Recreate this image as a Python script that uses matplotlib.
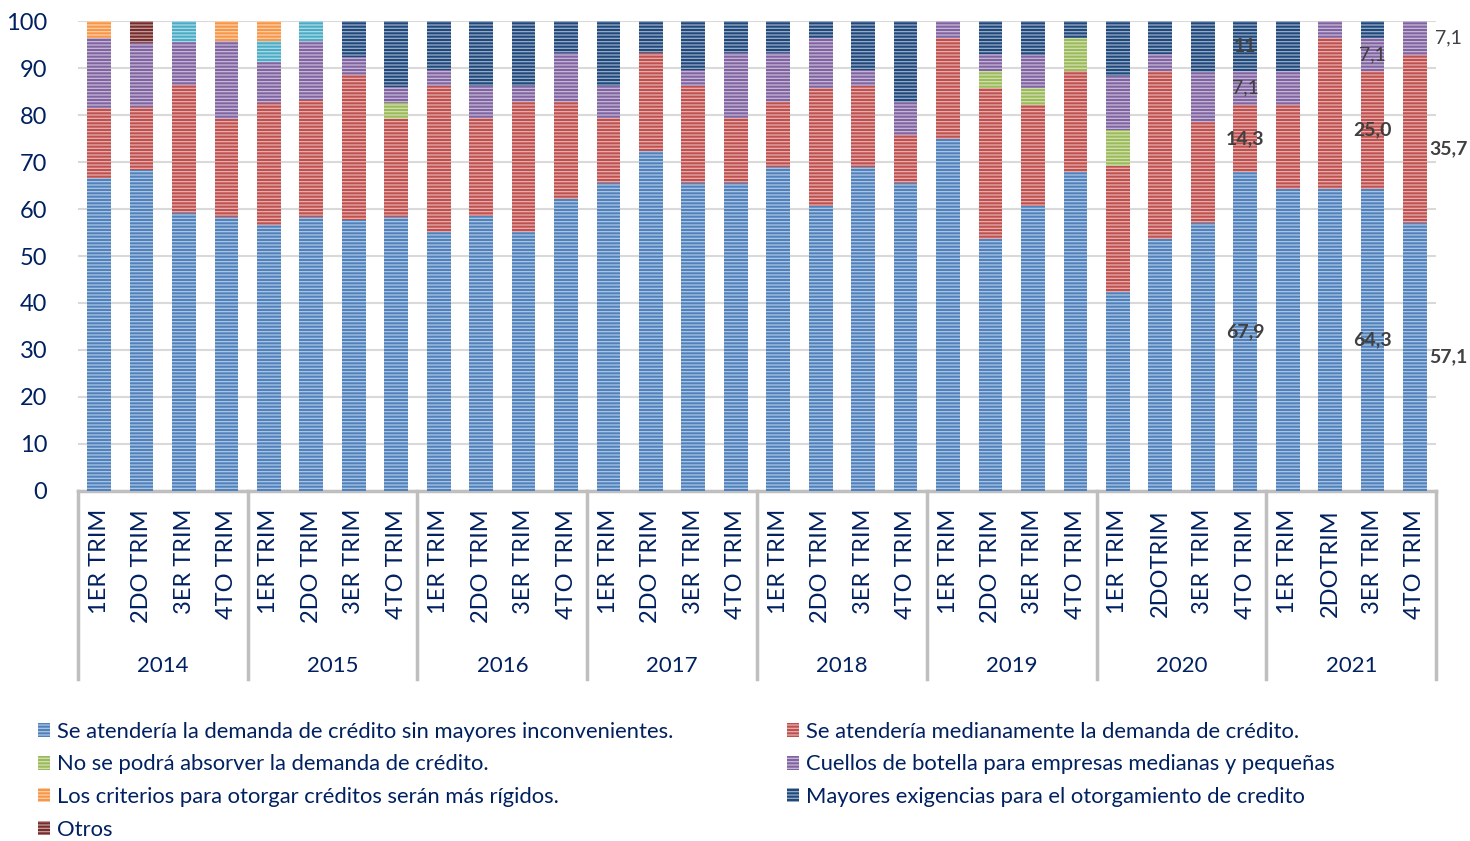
import matplotlib.pyplot as plt
import matplotlib.transforms as mtransforms
import numpy as np

plt.rcParams['font.family'] = ['Lato', 'DejaVu Sans']
plt.rcParams['hatch.linewidth'] = 0.9

years = ["2014", "2015", "2016", "2017", "2018", "2019", "2020", "2021"]
quarters = ["1ER TRIM", "2DO TRIM", "3ER TRIM", "4TO TRIM"] * 6 + \
           ["1ER TRIM", "2DOTRIM", "3ER TRIM", "4TO TRIM"] * 2

# valores (%) por trimestre
sin_inconvenientes = [66.7, 68.2, 59.1, 58.3, 56.5, 58.3, 57.7, 58.4,
                      55.2, 58.6, 55.2, 62.1, 65.5, 72.4, 65.5, 65.5,
                      69.0, 60.7, 69.0, 65.5, 75.0, 53.6, 60.7, 67.9,
                      42.3, 53.6, 57.1, 67.9, 64.3, 64.3, 64.3, 57.1]
medianamente = [14.8, 13.6, 27.3, 20.8, 26.1, 25.0, 30.8, 20.7,
                31.0, 20.7, 27.6, 20.7, 13.8, 20.7, 20.7, 13.8,
                13.8, 25.0, 17.2, 10.3, 21.4, 32.1, 21.4, 21.4,
                26.9, 35.7, 21.4, 14.3, 17.9, 32.1, 25.0, 35.7]
no_absorber = [0, 0, 0, 0, 0, 0, 0, 3.4,
               0, 0, 0, 0, 0, 0, 0, 0,
               0, 0, 0, 0, 0, 3.6, 3.6, 7.1,
               7.7, 0, 0, 0, 0, 0, 0, 0]
cuellos = [14.8, 13.6, 9.1, 16.7, 8.7, 12.5, 3.8, 3.4,
           3.4, 6.9, 3.4, 10.3, 6.9, 0, 3.4, 13.8,
           10.3, 10.7, 3.4, 6.9, 3.6, 3.6, 7.1, 0,
           11.5, 3.6, 10.7, 7.1, 7.1, 3.6, 7.1, 7.1]
sin_leyenda = [0, 0, 4.5, 0, 4.35, 4.2, 0, 0] + [0] * 24
rigidos = [3.7, 0, 0, 4.2, 4.35, 0, 0, 0] + [0] * 24
exigencias = [0, 0, 0, 0, 0, 0, 7.7, 14.1,
              10.3, 13.8, 13.8, 6.9, 13.8, 6.9, 10.3, 6.9,
              6.9, 3.6, 10.3, 17.2, 0, 7.1, 7.1, 3.6,
              11.5, 7.1, 10.7, 10.7, 10.7, 0, 3.6, 0]
otros = [0, 4.5] + [0] * 30

series = [
    (sin_inconvenientes, "#4f81bd", "Se atendería la demanda de crédito sin mayores inconvenientes."),
    (medianamente, "#c0504d", "Se atendería medianamente la demanda de crédito."),
    (no_absorber, "#9bbb59", "No se podrá absorver la demanda de crédito."),
    (cuellos, "#8064a2", "Cuellos de botella para empresas medianas y pequeñas"),
    (sin_leyenda, "#4bacc6", None),
    (rigidos, "#f79646", "Los criterios para otorgar créditos serán más rígidos."),
    (exigencias, "#1f497d", "Mayores exigencias para el otorgamiento de credito"),
    (otros, "#772c2a", "Otros"),
]

navy = "#002060"
grey = "#bfbfbf"

fig = plt.figure(figsize=(14.7, 8.41), dpi=100)
ax = fig.add_axes([0.053, 0.4162, 0.924, 0.5588])

x = np.arange(len(quarters))
bottom = np.zeros(len(quarters))
handles = {}
for vals, col, lab in series:
    vals = np.array(vals)
    b = ax.bar(x, vals, 0.56, bottom=bottom, color=col, edgecolor=(1, 1, 1, 0.55),
               linewidth=0, hatch="-----", zorder=3)
    if lab:
        handles[lab] = b
    bottom += vals

ax.set_xlim(-0.5, len(quarters) - 0.5)
ax.set_ylim(0, 100)
ax.set_yticks(range(0, 101, 10))
ax.tick_params(axis="y", length=0, labelsize=17, labelcolor=navy, pad=22)
ax.grid(axis="y", color="#d9d9d9", linewidth=1.5, zorder=0)
for s in ["left", "right", "top"]:
    ax.spines[s].set_visible(False)
ax.spines["bottom"].set_color(grey)
ax.spines["bottom"].set_linewidth(2.5)

ax.set_xticks(x)
ax.set_xticklabels(quarters, rotation=90, va="top", fontsize=17, color=navy)
ax.tick_params(axis="x", length=0, pad=13)

trans = mtransforms.blended_transform_factory(ax.transData, ax.transAxes)
for i, yr in enumerate(years):
    ax.text(4 * i + 1.5, -0.372, yr, transform=trans, ha="center", va="center",
            fontsize=16, color=navy)
for k in range(len(years) + 1):
    ax.plot([4 * k - 0.5, 4 * k - 0.5], [0, -0.40], transform=trans, color=grey,
            linewidth=2.5, clip_on=False)

# etiquetas de datos
lab_col = "#404040"
def label(i, low, val, txt, bold=True, dx=0.0):
    ax.text(i + dx, low + val / 2, txt, ha="center", va="center", fontsize=14,
            color=lab_col, fontweight="bold" if bold else "normal", zorder=5)

i = 27
label(i, 0, 67.9, "67,9")
label(i, 67.9, 14.3, "14,3")
label(i, 82.2, 7.1, "7,1", bold=False)
label(i, 89.3, 10.7, "11")
i = 30
label(i, 0, 64.3, "64,3")
label(i, 64.3, 25.0, "25,0")
label(i, 89.3, 7.1, "7,1", bold=False)
i = 31
label(i, 0, 57.1, "57,1", dx=0.78)
label(i, 55.0, 35.7, "35,7", dx=0.78)
label(i, 92.8, 7.1, "7,1", bold=False, dx=0.78)

order = ["Se atendería la demanda de crédito sin mayores inconvenientes.",
         "No se podrá absorver la demanda de crédito.",
         "Los criterios para otorgar créditos serán más rígidos.",
         "Otros",
         "Se atendería medianamente la demanda de crédito.",
         "Cuellos de botella para empresas medianas y pequeñas",
         "Mayores exigencias para el otorgamiento de credito"]
leg = fig.legend([handles[k] for k in order], order, loc="upper left",
                 bbox_to_anchor=(0.026, 0.142), ncol=2, frameon=False,
                 fontsize=15.8, handlelength=0.55, handleheight=0.6,
                 handletextpad=0.3, columnspacing=5.2, labelspacing=0.58,
                 borderaxespad=0, borderpad=0)
for t in leg.get_texts():
    t.set_color(navy)

fig.savefig("out.png", dpi=100)
